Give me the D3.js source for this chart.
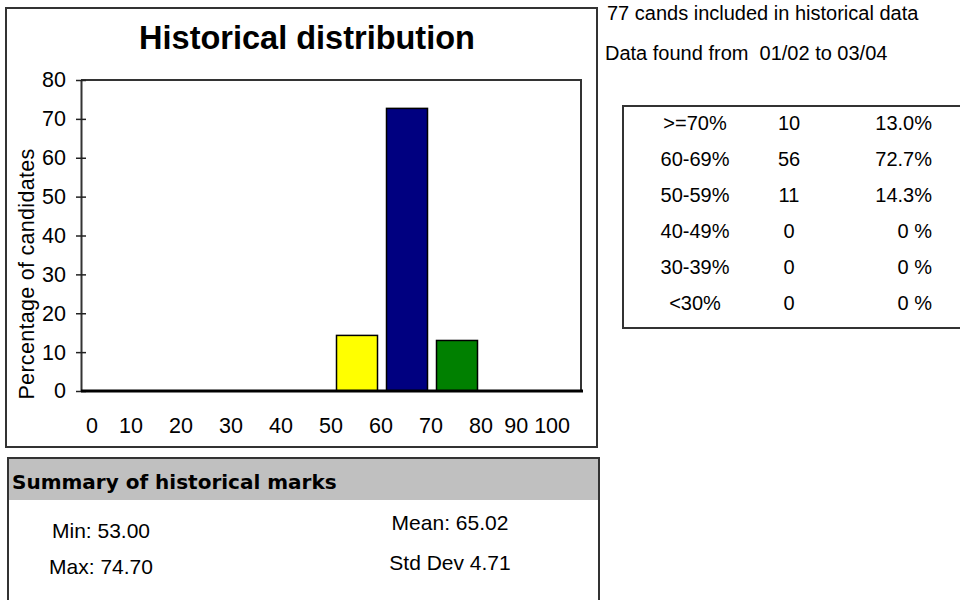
<!DOCTYPE html>
<html>
<head>
<meta charset="utf-8">
<script src="https://cdn.jsdelivr.net/npm/d3@7"></script>
<style>
  html, body { margin: 0; padding: 0; background: #fff; }
  svg { display: block; }
  text { font-family: "Liberation Sans", Arial, sans-serif; fill: #000; }
</style>
</head>
<body>
<svg id="chart" width="960" height="600"></svg>
<script>
// ---- data ----
const binStarts = [0, 10, 20, 30, 40, 50, 60, 70, 80, 90];
const binPercent = [0, 0, 0, 0, 0, 14.3, 72.7, 13.0, 0, 0];
const xTickLabels = [0, 10, 20, 30, 40, 50, 60, 70, 80, 90, 100];
const yTickValues = [0, 10, 20, 30, 40, 50, 60, 70, 80];
const chartTitle = "Historical distribution";
const yAxisTitle = "Percentage of candidates";

const infoLines = ["77 cands included in historical data", "Data found from  01/02 to 03/04"];
const bandLabels = [">=70%", "60-69%", "50-59%", "40-49%", "30-39%", "<30%"];
const bandCounts = [10, 56, 11, 0, 0, 0];
const bandPercents = ["13.0%", "72.7%", "14.3%", "0 %", "0 %", "0 %"];

const summaryTitle = "Summary of historical marks";
const summaryLeft = ["Min: 53.00", "Max: 74.70"];
const summaryRight = ["Mean: 65.02", "Std Dev 4.71"];

// ---- layout ----
const svg = d3.select("#chart");
const plot = { left: 81, right: 581, top: 80, bottom: 391 };

const color = d3.scaleOrdinal()
  .domain([50, 60, 70])
  .range(["#ffff00", "#000080", "#008000"])
  .unknown("#ffffff");

// outer chart panel
svg.append("rect").attr("x", 6).attr("y", 8).attr("width", 591).attr("height", 439)
  .attr("fill", "#fff").attr("stroke", "#333").attr("stroke-width", 2);

svg.append("text").attr("x", 307).attr("y", 49).attr("text-anchor", "middle")
  .style("font-size", "32.5px").style("font-weight", "bold").text(chartTitle);

const y = d3.scaleLinear().domain([0, 80]).range([plot.bottom, plot.top]);
const xBand = d3.scaleBand().domain(binStarts).range([plot.left + 1, plot.right + 1])
  .paddingInner(0.18).paddingOuter(0.09);
const xLin = d3.scaleLinear().domain([0, 100]).range([plot.left, plot.right]);

// plot frame (top and right)
svg.append("path")
  .attr("d", `M${plot.left},${plot.top}H${plot.right}V${plot.bottom}`)
  .attr("fill", "none").attr("stroke", "#333").attr("stroke-width", 2);

// bars
svg.append("g").selectAll("rect")
  .data(binStarts.map((b, i) => ({ b, v: binPercent[i] })).filter(d => d.v > 0))
  .join("rect")
  .attr("x", d => xBand(d.b))
  .attr("width", xBand.bandwidth())
  .attr("y", d => y(d.v))
  .attr("height", d => y(0) - y(d.v))
  .attr("fill", d => color(d.b))
  .attr("stroke", "#000").attr("stroke-width", 1.5);

// y axis
const yAxis = svg.append("g").attr("transform", `translate(${plot.left},0)`)
  .call(d3.axisLeft(y).tickValues(yTickValues).tickSize(5).tickPadding(10).tickSizeOuter(0));
yAxis.select(".domain").attr("stroke", "#333").attr("stroke-width", 2);
yAxis.selectAll(".tick line").attr("x1", -5).attr("x2", 5).attr("stroke", "#222").attr("stroke-width", 1.5);
yAxis.selectAll(".tick text").style("font-size", "21.5px").style("font-family", "Liberation Sans, Arial, sans-serif").attr("fill", "#000");
yAxis.attr("font-family", null).attr("font-size", null);

// baseline
svg.append("line").attr("x1", plot.left).attr("x2", plot.right + 2)
  .attr("y1", y(0)).attr("y2", y(0)).attr("stroke", "#000").attr("stroke-width", 3);

// x labels with collision avoidance
const xl = svg.append("g").selectAll("text").data(xTickLabels).join("text")
  .attr("y", 433).attr("text-anchor", "middle").style("font-size", "21.5px")
  .text(d => d);
const widths = [];
xl.each(function () { widths.push(this.getComputedTextLength()); });
const centers = xTickLabels.map((v, i) =>
  Math.max(plot.left + 5 + widths[i] / 2, Math.min(plot.right - 11 - widths[i] / 2, xLin(v))));
for (let i = centers.length - 2; i >= 0; i--) {
  const maxC = centers[i + 1] - widths[i + 1] / 2 - 6 - widths[i] / 2;
  if (centers[i] > maxC) centers[i] = maxC;
}
xl.attr("x", (d, i) => centers[i]);

// y axis title
svg.append("text").attr("transform", `translate(34,274) rotate(-90)`)
  .attr("text-anchor", "middle").style("font-size", "21.5px").style("letter-spacing", "0.3px").text(yAxisTitle);

// ---- right info ----
svg.append("g").selectAll("text").data(infoLines).join("text")
  .attr("x", (d, i) => 607 - i * 2).attr("y", (d, i) => 20 + i * 40)
  .style("font-size", "20px").style("white-space", "pre").text(d => d);

svg.append("rect").attr("x", 623).attr("y", 106).attr("width", 345).attr("height", 222)
  .attr("fill", "none").attr("stroke", "#333").attr("stroke-width", 2);

const rowY = d3.scalePoint().domain(bandLabels).range([130, 310]);
const tbl = svg.append("g").selectAll("g").data(bandLabels).join("g")
  .attr("transform", d => `translate(0,${rowY(d)})`);
tbl.append("text").attr("x", 695).attr("text-anchor", "middle").style("font-size", "20px").text(d => d);
tbl.append("text").attr("x", 789).attr("text-anchor", "middle").style("font-size", "20px").text((d, i) => bandCounts[i]);
tbl.append("text").attr("x", 932).attr("text-anchor", "end").style("font-size", "20px").text((d, i) => bandPercents[i]);

// ---- summary panel ----
svg.append("rect").attr("x", 9).attr("y", 459).attr("width", 590).attr("height", 41).attr("fill", "#c0c0c0");
svg.append("rect").attr("x", 8).attr("y", 458).attr("width", 591).attr("height", 160)
  .attr("fill", "none").attr("stroke", "#333").attr("stroke-width", 2);
svg.append("text").attr("x", 12).attr("y", 489).style("font-size", "20px").style("font-weight", "bold")
  .style("font-family", "DejaVu Sans, sans-serif").text(summaryTitle);
svg.append("g").selectAll("text").data(summaryLeft).join("text")
  .attr("x", 101).attr("y", (d, i) => 538 + i * 36).attr("text-anchor", "middle")
  .style("font-size", "21px").text(d => d);
svg.append("g").selectAll("text").data(summaryRight).join("text")
  .attr("x", 450).attr("y", (d, i) => 530 + i * 40).attr("text-anchor", "middle")
  .style("font-size", "21px").text(d => d);
</script>
</body>
</html>
